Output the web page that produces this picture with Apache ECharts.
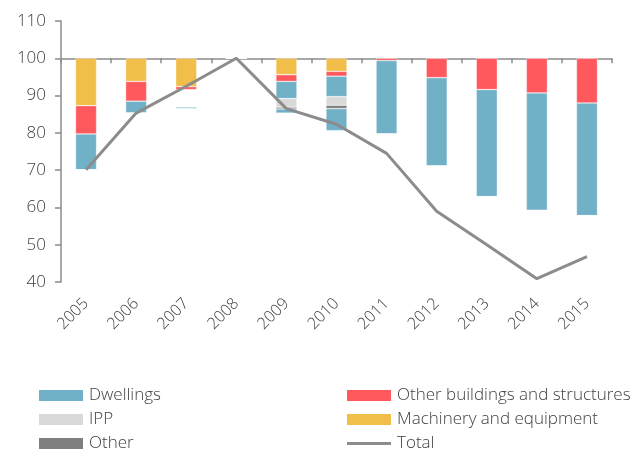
<!DOCTYPE html>
<html>
<head>
<meta charset="utf-8">
<script src="https://cdn.jsdelivr.net/npm/echarts@6/dist/echarts.min.js"></script>
<style>
html,body{margin:0;padding:0;background:#fff;}
#chart{width:639px;height:457px;}
</style>
</head>
<body>
<div id="chart"></div>
<script>
// Categories
var years = ['2005','2006','2007','2008','2009','2010','2011','2012','2013','2014','2015'];
// Base level of the index (bars hang down from it)
var baseLevel = 100;
// Y tick labels (index level)
var yTicks = [40, 50, 60, 70, 80, 90, 100, 110];
// Contributions (index points, negative = decline from 2008 level), stacked from the top
var machinery      = [-12.7, -6.2, -7.6, 0, -4.4, -3.5, 0,    0,    0,    0,     0];
var otherBuildings = [-7.6,  -5.3, -0.8, 0, -1.8, -1.3, -0.6, -5.2, -8.4, -9.3, -12.0];
var spacer         = [0,      0,   -4.7, 0,  0,    0,    0,    0,    0,    0,     0];
var dwellingsUpper = [-9.6,  -3.2, -0.5, 0, -4.6, -5.5, -19.7, -23.7, -28.7, -31.5, -30.2];
var ipp            = [0,      0,    0,   0, -2.3, -2.3, 0,    0,    0,    0,     0];
var other          = [0,      0,    0,   0, -0.5, -0.9, 0,    0,    0,    0,     0];
var dwellingsLower = [0,      0,    0,   0, -1.1, -5.9, 0,    0,    0,    0,     0];
// Total investment index (2008 = 100)
var total = [70.1, 85.3, 92.5, 100, 86.5, 82.3, 74.5, 59.0, 50.0, 40.9, 46.8];

var COL = {
  dw: '#70B1C8', ob: '#FF585D', me: '#F2BE4A', ipp: '#D9D9D9', oth: '#7F7F7F', tot: '#8C8C8C'
};
var FONT = 'Open Sans';
var FW = 300;
var axisGrey = '#8C8C8C';
var txt = '#404040';

function bar(name, data, color, extra) {
  var s = {
    name: name, type: 'bar', stack: 'a', xAxisIndex: 0, data: data,
    barWidth: '42%',
    itemStyle: { color: color, borderColor: 'rgba(255,255,255,0.55)', borderWidth: 0.6 },
    emphasis: { disabled: true }
  };
  if (extra) Object.assign(s, extra);
  return s;
}

var yMin = yTicks[0] - baseLevel, yMax = yTicks[yTicks.length - 1] - baseLevel;

function leg(name, left, top, color, h) {
  return {
    data: [{ name: name, icon: 'rect', itemStyle: { color: color, borderWidth: 0 } }],
    left: left, top: top, padding: 0,
    itemWidth: 44, itemHeight: h || 11, itemGap: 0,
    itemStyle: { borderWidth: 0 },
    lineStyle: { width: 0 },
    textStyle: { fontFamily: FONT, fontWeight: FW, fontSize: 17, color: txt, padding: [0, 0, 0, 1] },
    selectedMode: false
  };
}

var option = {
  animation: false,
  backgroundColor: '#fff',
  grid: { left: 61, right: 27, top: 21, bottom: 175, containLabel: false },
  legend: [
    leg('Dwellings', 39, 387, COL.dw),
    leg('IPP', 39, 411, COL.ipp),
    leg('Other', 39, 435, COL.oth),
    leg('Other buildings and structures', 347, 387, COL.ob),
    leg('Machinery and equipment', 347, 411, COL.me),
    leg('Total', 347, 435, COL.tot, 3)
  ],
  xAxis: [
    {
      type: 'category', data: years, boundaryGap: true,
      axisLine: { onZero: true, lineStyle: { color: axisGrey, width: 1.5 } },
      axisTick: { show: true, alignWithLabel: false, length: 5, lineStyle: { color: axisGrey, width: 1.5 } },
      axisLabel: { show: false },
      splitLine: { show: false }
    },
    {
      type: 'category', data: years, boundaryGap: true, position: 'bottom',
      axisLine: { show: false, onZero: false },
      axisTick: { show: false },
      axisLabel: { rotate: 45, margin: 19, fontFamily: FONT, fontWeight: FW, fontSize: 16, color: txt },
      splitLine: { show: false }
    }
  ],
  yAxis: {
    type: 'value', min: yMin, max: yMax, interval: 10,
    axisLine: { show: true, lineStyle: { color: axisGrey, width: 1.5 } },
    axisTick: { show: true, length: 6, lineStyle: { color: axisGrey, width: 1.5 } },
    splitLine: { show: false },
    axisLabel: {
      margin: 15, fontFamily: FONT, fontWeight: FW, fontSize: 17, color: txt,
      formatter: function (v) { return String(v + baseLevel); }
    }
  },
  series: [
    bar('Machinery and equipment', machinery, COL.me),
    bar('Other buildings and structures', otherBuildings, COL.ob),
    bar('spacer', spacer, 'rgba(0,0,0,0)', { itemStyle: { color: 'rgba(0,0,0,0)', borderWidth: 0 } }),
    bar('Dwellings', dwellingsUpper, COL.dw),
    bar('IPP', ipp, COL.ipp),
    bar('Other', other, COL.oth),
    bar('Dwellings', dwellingsLower, COL.dw),
    {
      name: 'Total', type: 'line', xAxisIndex: 0, z: 5,
      data: total.map(function (v) { return +(v - baseLevel).toFixed(2); }),
      symbol: 'none', lineStyle: { color: COL.tot, width: 3 }, itemStyle: { color: COL.tot },
      emphasis: { disabled: true }
    }
  ]
};

var chart = echarts.init(document.getElementById('chart'), null, { renderer: 'canvas' });
chart.setOption(option);
</script>
</body>
</html>
